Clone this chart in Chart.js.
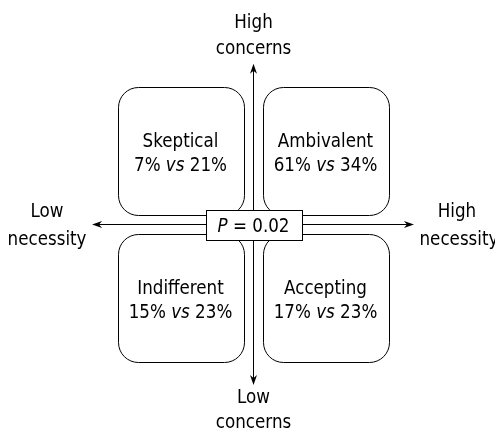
<!DOCTYPE html>
<html>
<head>
<meta charset="utf-8">
<script src="https://cdn.jsdelivr.net/npm/chart.js@4/dist/chart.umd.min.js"></script>
<style>
    html, body { margin: 0; padding: 0; background: #fff; }
    #wrap { width: 495px; height: 429px; }
</style>
</head>
<body>
<div id="wrap"><canvas id="quadChart" width="495" height="429"></canvas></div>
<script>
// quadrant data
const categories = ["Skeptical", "Ambivalent", "Indifferent", "Accepting"];
const necessity = [-0.5, 0.5, -0.5, 0.5];   // x position (low -> high necessity)
const concerns = [0.5, 0.5, -0.5, -0.5];    // y position (low -> high concerns)
const groupA = [7, 61, 15, 17];             // % first group
const groupB = [21, 34, 23, 23];            // % second group
const pValue = "0.02";

// axis end labels
const xLabels = { low: ["Low", "necessity"], high: ["High", "necessity"] };
const yLabels = { low: ["Low", "concerns"], high: ["High", "concerns"] };

const FONT = "'DejaVu Sans Condensed', 'DejaVu Sans', sans-serif";
const SIZE = 18.6;

function drawRich(ctx, parts, cx, y) {
    // parts: [text, italic]
    let widths = parts.map(p => {
        ctx.font = (p[1] ? "italic " : "") + SIZE + "px " + FONT;
        return ctx.measureText(p[0]).width;
    });
    let total = widths.reduce((a, b) => a + b, 0);
    let x = cx - total / 2;
    ctx.textAlign = "left";
    parts.forEach((p, i) => {
        ctx.font = (p[1] ? "italic " : "") + SIZE + "px " + FONT;
        ctx.fillText(p[0], x, y);
        x += widths[i];
    });
}

function roundRect(ctx, x, y, w, h, r) {
    ctx.beginPath();
    ctx.moveTo(x + r, y);
    ctx.lineTo(x + w - r, y);
    ctx.arcTo(x + w, y, x + w, y + r, r);
    ctx.lineTo(x + w, y + h - r);
    ctx.arcTo(x + w, y + h, x + w - r, y + h, r);
    ctx.lineTo(x + r, y + h);
    ctx.arcTo(x, y + h, x, y + h - r, r);
    ctx.lineTo(x, y + r);
    ctx.arcTo(x, y, x + r, y, r);
    ctx.closePath();
}

function arrowHead(ctx, x, y, angle) {
    ctx.save();
    ctx.translate(x, y);
    ctx.rotate(angle);
    ctx.beginPath();
    ctx.moveTo(0, 0);
    ctx.lineTo(-10, -3.5);
    ctx.lineTo(-7, 0);
    ctx.lineTo(-10, 3.5);
    ctx.closePath();
    ctx.fill();
    ctx.restore();
}

const quadrantPlugin = {
    id: "quadrants",
    afterDatasetsDraw(chart) {
        let ctx = chart.ctx;
        let xs = chart.scales.x, ys = chart.scales.y;
        let x0 = Math.round(xs.getPixelForValue(0)) + 0.5;
        let y0 = Math.round(ys.getPixelForValue(0)) + 0.5;
        let ext = 1.11;
        let xl = xs.getPixelForValue(-ext), xr = xs.getPixelForValue(ext);
        let yt = ys.getPixelForValue(1.09), yb = ys.getPixelForValue(-1.095);

        ctx.save();
        ctx.strokeStyle = "#000";
        ctx.fillStyle = "#000";
        ctx.lineWidth = 1;

        // rounded quadrant boxes
        let meta = chart.getDatasetMeta(0);
        meta.data.forEach((pt, i) => {
            let cx = pt.x, cy = pt.y;
            let w = 126, h = 128;
            roundRect(ctx, Math.round(cx - w / 2) + 0.5, Math.round(cy - h / 2) + 0.5, w, h, 20);
            ctx.stroke();
            ctx.textBaseline = "alphabetic";
            ctx.textAlign = "center";
            ctx.font = SIZE + "px " + FONT;
            ctx.fillText(categories[i], cx, cy - 4);
            drawRich(ctx, [[groupA[i] + "% ", false], ["vs", true], [" " + groupB[i] + "%", false]], cx, cy + 20);
        });

        // axes arrows
        ctx.beginPath();
        ctx.moveTo(xl + 4, y0); ctx.lineTo(xr - 4, y0);
        ctx.moveTo(x0, yt + 4); ctx.lineTo(x0, yb - 4);
        ctx.stroke();
        arrowHead(ctx, xr, y0, 0);
        arrowHead(ctx, xl, y0, Math.PI);
        arrowHead(ctx, x0, yt, -Math.PI / 2);
        arrowHead(ctx, x0, yb, Math.PI / 2);

        // P value box
        let bw = 96, bh = 30;
        ctx.fillStyle = "#fff";
        ctx.fillRect(Math.round(x0 - bw / 2) + 0.5, Math.round(y0 - bh / 2) + 0.5, bw, bh);
        ctx.strokeRect(Math.round(x0 - bw / 2) + 0.5, Math.round(y0 - bh / 2) + 0.5, bw, bh);
        ctx.fillStyle = "#000";
        drawRich(ctx, [["P", true], [" = " + pValue, false]], x0, y0 + 7);

        // axis end labels
        ctx.font = SIZE + "px " + FONT;
        ctx.textAlign = "center";
        ctx.fillText(yLabels.high[0], x0, yt - 36);
        ctx.fillText(yLabels.high[1], x0, yt - 10);
        ctx.fillText(yLabels.low[0], x0, yb + 18);
        ctx.fillText(yLabels.low[1], x0, yb + 43);
        ctx.fillText(xLabels.low[0], xl - 45, y0 - 8);
        ctx.fillText(xLabels.low[1], xl - 45, y0 + 20);
        ctx.fillText(xLabels.high[0], xr + 43, y0 - 8);
        ctx.fillText(xLabels.high[1], xr + 45, y0 + 20);
        ctx.restore();
    }
};

let quadChart = new Chart(document.getElementById("quadChart"), {
    type: "scatter",
    data: {
        datasets: [{
            label: "Quadrants",
            data: categories.map((c, i) => ({ x: necessity[i], y: concerns[i] })),
            pointRadius: 0
        }]
    },
    options: {
        responsive: false,
        animation: false,
        layout: { padding: { left: 108, right: 97, top: 77, bottom: 58 } },
        plugins: { legend: { display: false }, tooltip: { enabled: false } },
        scales: {
            x: { type: "linear", min: -1, max: 1, display: false },
            y: { type: "linear", min: -1, max: 1, display: false }
        }
    },
    plugins: [quadrantPlugin]
});
</script>
</body>
</html>
